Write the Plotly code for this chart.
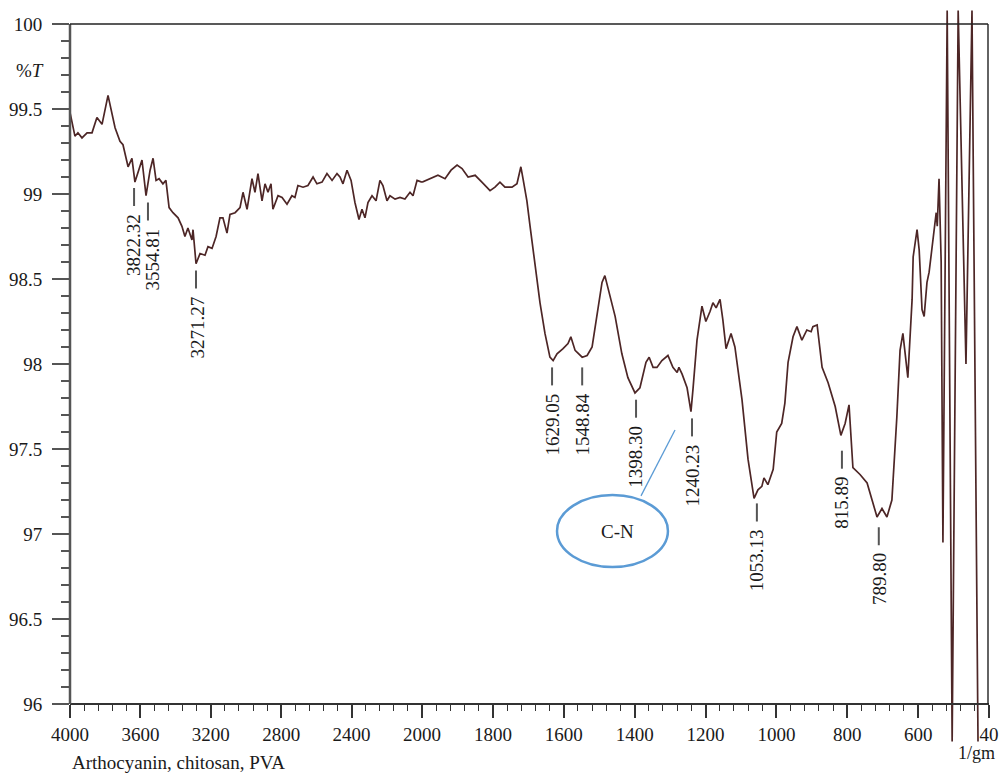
import plotly.graph_objects as go

W, H = 1003, 775

# ---------------- data ----------------
# high-wavenumber part (4000 -> 2000 cm-1)
wn_hi = [4000, 3972, 3955, 3932, 3903, 3875, 3847, 3818, 3784, 3744, 3716, 3699, 3670, 3648,
         3631, 3614, 3591, 3568, 3545, 3528, 3511, 3494, 3472, 3455, 3437, 3415, 3386, 3364,
         3347, 3330, 3307, 3301, 3284, 3261, 3233, 3216, 3193, 3170, 3148, 3131, 3108, 3091,
         3062, 3034, 3017, 2994, 2966, 2949, 2932, 2909, 2892, 2875, 2858, 2847, 2818, 2795,
         2767, 2739, 2722, 2705, 2676, 2648, 2619, 2597, 2568, 2540, 2511, 2483, 2466, 2449,
         2426, 2403, 2381, 2358, 2341, 2324, 2307, 2284, 2261, 2239, 2222, 2199, 2182, 2153,
         2125, 2097, 2068, 2051, 2028, 2000]
t_hi = [99.48, 99.34, 99.36, 99.33, 99.36, 99.36, 99.45, 99.41, 99.58, 99.39, 99.31, 99.29, 99.16, 99.21,
        99.07, 99.12, 99.20, 98.99, 99.14, 99.21, 99.08, 99.09, 99.06, 99.08, 98.92, 98.89, 98.86, 98.81,
        98.75, 98.80, 98.73, 98.79, 98.59, 98.65, 98.64, 98.69, 98.68, 98.75, 98.86, 98.86, 98.77, 98.88,
        98.89, 98.92, 99.01, 98.91, 99.09, 99.01, 99.12, 98.96, 99.06, 99.01, 99.06, 98.91, 98.99, 98.98,
        98.94, 98.99, 98.98, 99.05, 99.04, 99.05, 99.10, 99.06, 99.07, 99.12, 99.08, 99.12, 99.10, 99.06,
        99.14, 99.08, 98.95, 98.85, 98.91, 98.86, 98.95, 98.99, 98.96, 99.08, 99.05, 98.96, 98.99, 98.97,
        98.98, 98.97, 99.01, 98.99, 99.08, 99.07]

# low-wavenumber part (2000 -> 400 cm-1)
wn_lo = [2000, 1977, 1955, 1935, 1918, 1901, 1887, 1870, 1850, 1831, 1808, 1794, 1780, 1766,
         1746, 1732, 1721, 1715, 1704, 1695, 1681, 1667, 1653, 1639, 1630, 1619, 1602, 1588,
         1580, 1568, 1548, 1534, 1520, 1506, 1492, 1484, 1475, 1455, 1436, 1419, 1399, 1385,
         1368, 1359, 1348, 1337, 1323, 1306, 1292, 1280, 1275, 1266, 1252, 1241, 1235, 1224,
         1210, 1199, 1187, 1179, 1170, 1159, 1151, 1142, 1128, 1117, 1097, 1080, 1063, 1052,
         1041, 1035, 1024, 1009, 999, 985, 976, 967, 953, 942, 928, 914, 902, 897,
         885, 871, 854, 834, 818, 806, 795, 784, 764, 744, 730, 716, 702, 688,
         674, 660, 651, 643, 629, 617, 614, 603, 597, 589, 583, 575, 569, 558,
         549, 546, 541, 535, 530, 518, 504, 487, 465, 448, 431]
t_lo = [99.07, 99.09, 99.11, 99.09, 99.14, 99.17, 99.15, 99.10, 99.11, 99.07, 99.02, 99.04, 99.07, 99.04,
        99.04, 99.06, 99.16, 99.09, 98.96, 98.81, 98.57, 98.36, 98.18, 98.04, 98.02, 98.06, 98.09, 98.12,
        98.16, 98.08, 98.04, 98.05, 98.10, 98.30, 98.48, 98.52, 98.45, 98.28, 98.06, 97.92, 97.83, 97.86,
        98.01, 98.04, 97.98, 97.98, 98.02, 98.05, 97.98, 97.95, 97.98, 97.94, 97.86, 97.72, 97.86, 98.14,
        98.34, 98.25, 98.31, 98.36, 98.33, 98.38, 98.26, 98.09, 98.18, 98.10, 97.79, 97.44, 97.21, 97.26,
        97.28, 97.33, 97.29, 97.38, 97.60, 97.65, 97.77, 98.01, 98.16, 98.22, 98.14, 98.20, 98.19, 98.22,
        98.23, 97.98, 97.89, 97.75, 97.58, 97.65, 97.76, 97.39, 97.35, 97.30, 97.20, 97.10, 97.15, 97.10,
        97.20, 97.69, 98.08, 98.18, 97.92, 98.38, 98.63, 98.79, 98.67, 98.32, 98.28, 98.48, 98.54, 98.73,
        98.89, 98.81, 99.09, 98.60, 96.95, 100.08, 95.78, 100.08, 98.00, 100.08, 95.78]

# peak labels: printed value, position of the marker on the axis, top of the marker (%T)
peak_labels = ["3822.32", "3554.81", "3271.27", "1629.05", "1548.84", "1398.30",
               "1240.23", "1053.13", "815.89", "789.80"]
peak_wn = [3636, 3557, 3284, 1633, 1548, 1396, 1238, 1055, 815, 711]
peak_top = [99.035, 98.95, 98.55, 97.98, 97.98, 97.79, 97.68, 97.18, 97.49, 97.04]
label_xshift = [-1, 5, 1, 0, 0, 0, 0, 0, 0, 0]   # small horizontal nudges of the printed values (px)

y_ticks = [96, 96.5, 97, 97.5, 98, 98.5, 99, 99.5, 100]
y_ticktext = ["96", "96.5", "97", "97.5", "98", "98.5", "99", "99.5", "100"]
x1_ticks = [4000, 3600, 3200, 2800, 2400, 2000]
x1_ticktext = ["4000", "3600", "3200", "2800", "2400", "2000"]
x2_ticks = [1800, 1600, 1400, 1200, 1000, 800, 600, 400]
x2_ticktext = ["1800", "1600", "1400", "1200", "1000", "800", "600", "40"]

# C-N callout (data coords on the low-wavenumber axis)
cn_ellipse = dict(x0=1619, x1=1306, y0=96.806, y1=97.229)
cn_text_pos = (1447, 97.012)
cn_line = (1286, 97.612, 1382, 97.224)

# ---------------- geometry ----------------
PX_L, PX_BREAK, PX_R = 70, 422, 989
PY_100, PY_96 = 24, 704
ppu = (PY_96 - PY_100) / 4.0
y_lo, y_hi = 95.74, 100.10
dom_top_px = PY_100 - (y_hi - 100) * ppu
dom_bot_px = PY_96 + (96 - y_lo) * ppu
ydom = [1 - dom_bot_px / H, 1 - dom_top_px / H]
x_axis_pos = 1 - PY_96 / H

FONT = "Liberation Serif, Times New Roman, serif"
TXT = "#1a1a1a"
CURVE = "#4d2626"
AX = "#333333"

fig = go.Figure()
fig.add_trace(go.Scatter(x=wn_hi, y=t_hi, mode="lines", xaxis="x", yaxis="y",
                         line=dict(color=CURVE, width=1.7), hoverinfo="skip", showlegend=False))
fig.add_trace(go.Scatter(x=wn_lo, y=t_lo, mode="lines", xaxis="x2", yaxis="y",
                         line=dict(color=CURVE, width=1.7), hoverinfo="skip", showlegend=False))

common_x = dict(anchor="free", position=x_axis_pos, showline=True, linecolor=AX, linewidth=2,
                ticks="outside", ticklen=13, tickwidth=1.6, tickcolor=AX, showgrid=False,
                zeroline=False, tickfont=dict(family=FONT, size=19, color=TXT), tickmode="array",
                automargin=False)

fig.update_layout(
    width=W, height=H, autosize=False,
    margin=dict(l=0, r=0, t=0, b=0, pad=0, autoexpand=False),
    paper_bgcolor="white", plot_bgcolor="white",
    xaxis=dict(domain=[PX_L / W, PX_BREAK / W], range=[4000, 2000],
               tickvals=x1_ticks, ticktext=x1_ticktext,
               minor=dict(ticks="outside", ticklen=6, tickwidth=1.3, tickcolor=AX,
                          tickvals=[4000 - 80 * i for i in range(26) if i % 5]),
               **common_x),
    xaxis2=dict(domain=[PX_BREAK / W, PX_R / W], range=[2000, 400],
                tickvals=x2_ticks, ticktext=x2_ticktext,
                minor=dict(ticks="outside", ticklen=6, tickwidth=1.3, tickcolor=AX,
                           tickvals=[2000 - 40 * i for i in range(41) if i % 5]),
                **common_x),
    yaxis=dict(domain=ydom, range=[y_lo, y_hi], anchor="x", showline=False, automargin=False,
               ticks="outside", ticklen=17, tickwidth=2, tickcolor="#555555",
               tickmode="array", tickvals=y_ticks, ticktext=y_ticktext,
               minor=dict(ticks="outside", ticklen=8, tickwidth=1.6, tickcolor="#555555",
                          tickvals=[round(96 + 0.1 * i, 1) for i in range(41) if i % 5]),
               showgrid=False, zeroline=False, ticklabelstandoff=6,
               tickfont=dict(family=FONT, size=19, color=TXT)),
)

shapes = []
# frame: left axis line, top line, right line
shapes.append(dict(type="line", xref="paper", yref="y", x0=PX_L / W, x1=PX_L / W, y0=96, y1=100,
                   line=dict(color="#555555", width=2.5)))
shapes.append(dict(type="line", xref="paper", yref="y", x0=PX_L / W, x1=988 / W, y0=100, y1=100,
                   line=dict(color="#222222", width=1.4)))
shapes.append(dict(type="line", xref="paper", yref="y", x0=988 / W, x1=988 / W, y0=96, y1=100,
                   line=dict(color="#222222", width=1.4)))

annotations = []
tick_len_T = 18 / ppu
for lab, wn, top, xs in zip(peak_labels, peak_wn, peak_top, label_xshift):
    xr = "x" if wn >= 2000 else "x2"
    shapes.append(dict(type="line", xref=xr, yref="y", x0=wn, x1=wn, y0=top, y1=top - tick_len_T,
                       line=dict(color="#555555", width=2)))
    annotations.append(dict(x=wn, y=top - tick_len_T, xref=xr, yref="y", text=lab, textangle=-90,
                            showarrow=False, xanchor="center", yanchor="top", yshift=-6, xshift=xs,
                            font=dict(family=FONT, size=19, color=TXT)))

# C-N callout
shapes.append(dict(type="circle", xref="x2", yref="y", line=dict(color="#5b9bd5", width=2.5),
                   **cn_ellipse))
shapes.append(dict(type="line", xref="x2", yref="y", x0=cn_line[0], y0=cn_line[1],
                   x1=cn_line[2], y1=cn_line[3], line=dict(color="#5b9bd5", width=1.3)))
annotations.append(dict(x=cn_text_pos[0], y=cn_text_pos[1], xref="x2", yref="y", text="C-N",
                        showarrow=False, font=dict(family=FONT, size=19, color=TXT)))

# axis titles / caption
annotations.append(dict(x=30 / W, y=1 - 70 / H, xref="paper", yref="paper", text="%<i>T</i>",
                        showarrow=False, xanchor="center", yanchor="middle",
                        font=dict(family=FONT, size=19, color=TXT)))
annotations.append(dict(x=976 / W, y=1 - 753 / H, xref="paper", yref="paper", text="1/gm",
                        showarrow=False, xanchor="center", yanchor="middle",
                        font=dict(family=FONT, size=18, color=TXT)))
annotations.append(dict(x=70 / W, y=1 - 762 / H, xref="paper", yref="paper",
                        text="Arthocyanin, chitosan, PVA", showarrow=False,
                        xanchor="left", yanchor="middle",
                        font=dict(family=FONT, size=19, color=TXT)))

fig.update_layout(shapes=shapes, annotations=annotations)

fig.write_html("out.html", config={"displayModeBar": False},
               post_script="document.body.style.margin='0px';")
